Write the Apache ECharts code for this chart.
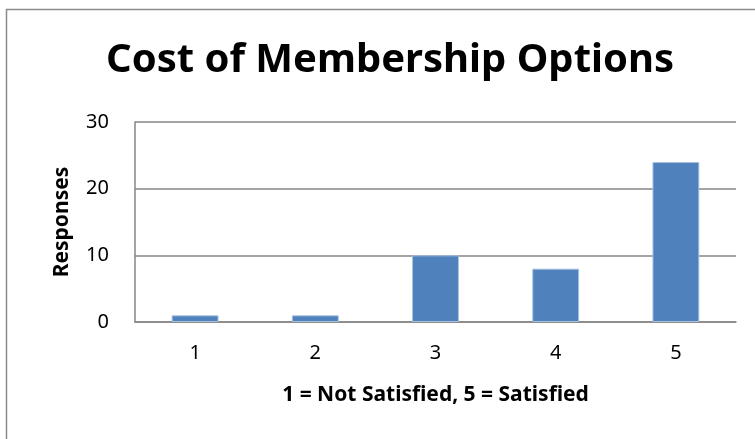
<!DOCTYPE html>
<html>
<head>
<meta charset="utf-8">
<script src="https://cdn.jsdelivr.net/npm/echarts@6/dist/echarts.min.js"></script>
<style>
  html, body { margin: 0; padding: 0; background: #fff; }
  #chart { width: 755px; height: 439px; }
</style>
</head>
<body>
<div id="chart"></div>
<script>
const categories = ["1", "2", "3", "4", "5"];
const responses = [1, 1, 10, 8, 24];
const yTicks = [0, 10, 20, 30];

const chart = echarts.init(document.getElementById("chart"));

chart.setOption({
  animation: false,
  backgroundColor: "#fff",
  graphic: [
    {
      type: "rect",
      shape: { x: 6.5, y: 9.5, width: 760, height: 440 },
      style: { fill: "none", stroke: "#8a8a8a", lineWidth: 1.5 },
      silent: true,
    },
  ],
  title: {
    text: "Cost of Membership Options",
    left: 385,
    textAlign: "center",
    top: 36,
    textStyle: {
      fontFamily: "Noto Sans",
      fontSize: 40,
      fontWeight: "bold",
      color: "#000",
    },
  },
  grid: { left: 135, right: 19, top: 122, height: 200 },
  xAxis: {
    type: "category",
    data: categories,
    name: "1 = Not Satisfied, 5 = Satisfied",
    nameLocation: "middle",
    nameGap: 63,
    nameTextStyle: {
      fontFamily: "Noto Sans",
      fontSize: 21,
      fontWeight: "bold",
      color: "#000",
    },
    axisLine: { lineStyle: { color: "#868686", width: 1.5 } },
    axisTick: { show: false },
    axisLabel: {
      fontFamily: "Noto Sans",
      fontSize: 20,
      color: "#000",
      margin: 21,
    },
  },
  yAxis: {
    type: "value",
    min: yTicks[0],
    max: yTicks[yTicks.length - 1],
    interval: 10,
    name: "Responses",
    nameLocation: "middle",
    nameGap: 62,
    nameTextStyle: {
      fontFamily: "Noto Sans",
      fontSize: 21,
      fontWeight: "bold",
      color: "#000",
    },
    axisLine: { show: true, lineStyle: { color: "#868686", width: 1.5 } },
    axisTick: { show: false },
    axisLabel: {
      fontFamily: "Noto Sans",
      fontSize: 20,
      color: "#000",
      margin: 26,
    },
    splitLine: { lineStyle: { color: "#868686", width: 1.5 } },
  },
  series: [
    {
      type: "bar",
      data: responses,
      barWidth: "39%",
      itemStyle: {
        color: "#4F81BD",
        borderColor: "#a7c0e0",
        borderWidth: 1,
      },
    },
  ],
});
</script>
</body>
</html>
